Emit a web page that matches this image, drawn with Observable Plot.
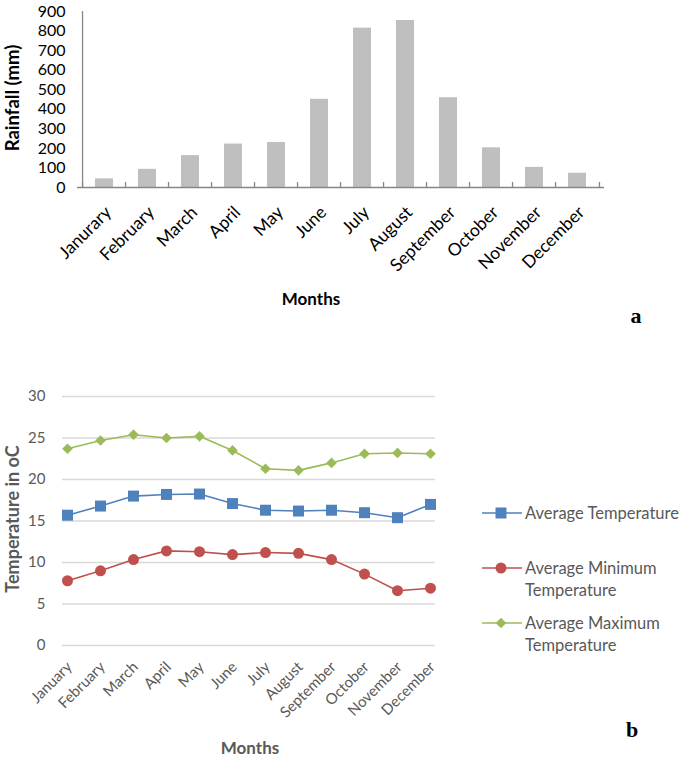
<!DOCTYPE html>
<html><head><meta charset="utf-8">
<script src="https://cdn.jsdelivr.net/npm/d3@7"></script>
<script src="https://cdn.jsdelivr.net/npm/@observablehq/plot@0.6"></script>
<style>
body{margin:0;background:#fff;}
#wrap{position:relative;width:685px;height:761px;overflow:hidden;font-family:Lato, "Open Sans", sans-serif;}
#wrap svg{position:absolute;left:0;}
.abs{position:absolute;white-space:nowrap;line-height:1;}
.leg{position:absolute;font-size:16.5px;color:#595959;line-height:22px;white-space:nowrap;}
</style></head><body><div id="wrap"></div>
<script>
// ---- data ----
const months = ["January","February","March","April","May","June","July","August","September","October","November","December"];
// tick labels of chart a as printed in the reference (note its spelling "Janurary")
const rainMonthLabels = ["Janurary","February","March","April","May","June","July","August","September","October","November","December"];
const rainfall = [44, 93, 163, 222, 230, 451, 815, 854, 459, 203, 103, 73];
const rainTicks = [0,100,200,300,400,500,600,700,800,900];
const seriesNames = ["Average Temperature","Average Minimum Temperature","Average Maximum Temperature"];
const avgTemp = [15.7, 16.8, 18.0, 18.2, 18.25, 17.1, 16.3, 16.2, 16.3, 16.0, 15.4, 17.0];
const minTemp = [7.8, 9.0, 10.35, 11.4, 11.3, 10.95, 11.2, 11.1, 10.35, 8.6, 6.6, 6.9];
const maxTemp = [23.7, 24.7, 25.4, 25.0, 25.2, 23.5, 21.3, 21.1, 22.0, 23.1, 23.2, 23.1];
const tempTicks = [0,5,10,15,20,25,30];
const seriesColors = ["#4F81BD","#C0504D","#9BBB59"];
const seriesSymbols = ["square","circle","diamond2"];

const rainData = months.map((m,i)=>({month:m, rain:rainfall[i]}));
const tempData = [avgTemp, minTemp, maxTemp].flatMap((arr,s)=>arr.map((v,i)=>({month:months[i], value:v, series:seriesNames[s]})));

const wrap = document.getElementById("wrap");
const font = "Lato, 'Open Sans', sans-serif";

// ---- chart a ----
const W1L = 77, W1R = 81;
const step = (685 - W1L - W1R) / months.length;
const chartA = Plot.plot({
  width: 685, height: 291, marginTop: 11, marginBottom: 104, marginLeft: W1L, marginRight: W1R,
  style: {fontFamily: font, color: "#000", background: "transparent"},
  x: {domain: months, paddingInner: 0.59, paddingOuter: 0.295, label: null},
  y: {domain: [0, 900], label: null},
  marks: [
    Plot.barY(rainData, {x: "month", y: "rain", fill: "#bfbfbf"}),
    Plot.ruleY([0], {stroke: "#868686", strokeWidth: 1.3}),
    Plot.ruleX([months[0]], {x: d => d, dx: -step/2, y1: 0, y2: 900, stroke: "#868686", strokeWidth: 1.3}),
    Plot.ruleX(months, {x: d => d, dx: -step/2, y1: 0, y2: 0, insetTop: -5, stroke: "#868686", strokeWidth: 1.3}),
    Plot.ruleX([months[months.length-1]], {x: d => d, dx: step/2, y1: 0, y2: 0, insetTop: -5, stroke: "#868686", strokeWidth: 1.3}),
    Plot.axisY({ticks: rainTicks, tickSize: 0, tickPadding: 12, fontSize: 16, label: null}),
    Plot.axisX({tickRotate: -45, tickSize: 0, tickPadding: 22, dx: 4, fontSize: 17.5, label: null,
      tickFormat: m => rainMonthLabels[months.indexOf(m)]})
  ]
});
chartA.style.top = "0px";
wrap.appendChild(chartA);

// ---- chart b ----
const chartB = Plot.plot({
  width: 685, height: 381, marginTop: 16, marginBottom: 116, marginLeft: 62, marginRight: 250,
  style: {fontFamily: font, color: "#595959", background: "transparent"},
  x: {type: "point", domain: months, padding: 0, label: null},
  y: {domain: [0, 30], label: null},
  marks: [
    Plot.gridY({ticks: tempTicks, stroke: "#d9d9d9", strokeOpacity: 1, strokeWidth: 1.3}),
    Plot.axisY({ticks: tempTicks, tickSize: 0, tickPadding: 17, fontSize: 15, label: null}),
    Plot.axisX({tickRotate: -45, tickSize: 0, tickPadding: 19, dx: 2, fontSize: 15, label: null}),
    ...seriesNames.map((s,k) => Plot.line(tempData.filter(d => d.series === s), {x: "month", y: "value", stroke: seriesColors[k], strokeWidth: 1.6})),
    ...seriesNames.map((s,k) => Plot.dot(tempData.filter(d => d.series === s), {x: "month", y: "value", fill: seriesColors[k], symbol: seriesSymbols[k], r: [6.2, 5.5, 4.8][k], stroke: "none"}))
  ]
});
chartB.style.top = "380px";
wrap.appendChild(chartB);

// ---- texts ----
function addText(txt, css){ const d = document.createElement("div"); d.className = "abs"; d.textContent = txt; Object.assign(d.style, css); wrap.appendChild(d); return d; }
addText("Rainfall (mm)", {left: "12px", top: "98px", fontSize: "18.5px", fontWeight: "bold", color: "#000", transform: "translate(-50%,-50%) rotate(-90deg)"});
addText("Months", {left: "311px", top: "298px", fontSize: "17px", fontWeight: "bold", color: "#000", transform: "translate(-50%,-50%)"});
addText("a", {left: "636px", top: "316px", fontSize: "22px", fontWeight: "bold", color: "#000", fontFamily: "'Liberation Serif', serif", transform: "translate(-50%,-50%)"});
addText("Temperature in oC", {left: "12px", top: "519px", fontSize: "18px", fontWeight: "bold", color: "#595959", transform: "translate(-50%,-50%) rotate(-90deg)"});
addText("Months", {left: "250px", top: "747px", fontSize: "17px", fontWeight: "bold", color: "#595959", transform: "translate(-50%,-50%)"});
addText("b", {left: "632px", top: "730px", fontSize: "22px", fontWeight: "bold", color: "#000", fontFamily: "'Liberation Serif', serif", transform: "translate(-50%,-50%)"});

// ---- legend ----
const legY = [512.7, 568, 623];
const legLabels = [["Average Temperature"], ["Average Minimum","Temperature"], ["Average Maximum","Temperature"]];
seriesNames.forEach((s,k) => {
  const svg = d3.create("svg").attr("width", 44).attr("height", 16).style("position","absolute").style("left","481px").style("top", (legY[k]-8)+"px");
  svg.append("line").attr("x1",1).attr("x2",41).attr("y1",8).attr("y2",8).attr("stroke",seriesColors[k]).attr("stroke-width",1.6);
  const r = [6.2,5.5,4.8][k];
  const sym = {square: d3.symbolSquare, circle: d3.symbolCircle, diamond2: d3.symbolDiamond2}[seriesSymbols[k]];
  svg.append("path").attr("transform","translate(20,8)").attr("d", d3.symbol(sym, Math.PI*r*r)()).attr("fill", seriesColors[k]);
  wrap.appendChild(svg.node());
  const t = document.createElement("div"); t.className = "leg";
  t.style.left = "525px"; t.style.top = (legY[k]-11)+"px";
  t.innerHTML = legLabels[k].join("<br>");
  wrap.appendChild(t);
});
</script></body></html>
